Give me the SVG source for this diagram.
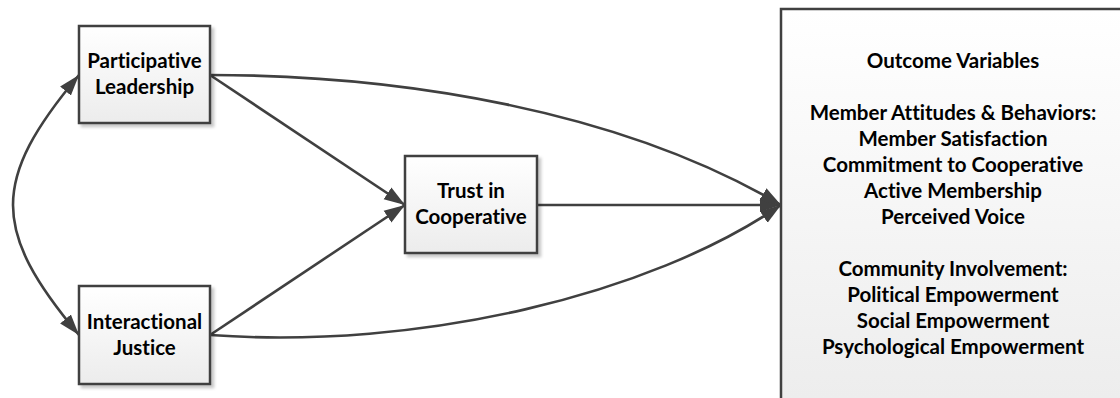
<svg xmlns="http://www.w3.org/2000/svg" width="1120" height="398" viewBox="0 0 1120 398">
  <defs>
    <linearGradient id="boxFill" x1="0" y1="0" x2="0" y2="1">
      <stop offset="0" stop-color="#ffffff"/>
      <stop offset="1" stop-color="#ececec"/>
    </linearGradient>
    <filter id="shadow" x="-10%" y="-10%" width="130%" height="130%">
      <feDropShadow dx="3" dy="3" stdDeviation="1.5" flood-color="#000000" flood-opacity="0.22"/>
    </filter>
    <marker id="arrow" markerUnits="userSpaceOnUse" markerWidth="22" markerHeight="16" refX="21" refY="8" orient="auto-start-reverse" viewBox="0 0 22 16">
      <path d="M0,1 L21,8 L0,15 Z" fill="#404040"/>
    </marker>
  </defs>
  <style>
    .box { fill: url(#boxFill); stroke: #404040; stroke-width: 2.5; filter: url(#shadow); }
    .label { font-family: Lato, "Liberation Sans", sans-serif; font-weight: bold; font-size: 20.5px; font-variant-ligatures: none; fill: #000000; text-anchor: middle; }
    .link { fill: none; stroke: #404040; stroke-width: 2.6; marker-end: url(#arrow); }
    .both { marker-start: url(#arrow); }
  </style>

  <rect width="1120" height="398" fill="#ffffff"/>

  <g id="connectors">
    <!-- correlation between the two predictors -->
    <path class="link both" d="M79,75 C -9,180 -9,230 79,335"/>
    <!-- predictors to trust -->
    <path class="link" d="M210,75 L405,205"/>
    <path class="link" d="M210,335 L405,205"/>
    <!-- trust to outcomes -->
    <path class="link" d="M537,205 L781,205"/>
    <!-- direct paths to outcomes -->
    <path class="link" d="M210,75 C 400,75 620,110 781,205"/>
    <path class="link" d="M210,335 C 420,350 650,295 781,205"/>
  </g>

  <g id="participative-leadership">
    <rect class="box" x="79" y="26" width="131" height="97"/>
    <text class="label" x="144.5" y="68">Participative</text>
    <text class="label" x="144.5" y="94">Leadership</text>
  </g>

  <g id="interactional-justice">
    <rect class="box" x="79" y="286" width="131" height="98"/>
    <text class="label" x="144.5" y="329">Interactional</text>
    <text class="label" x="144.5" y="355">Justice</text>
  </g>

  <g id="trust-in-cooperative">
    <rect class="box" x="405" y="156" width="132" height="97"/>
    <text class="label" x="471" y="198">Trust in</text>
    <text class="label" x="471" y="224">Cooperative</text>
  </g>

  <g id="outcome-variables">
    <rect class="box" x="781" y="9" width="360" height="410"/>
    <text class="label" x="953" y="68">Outcome Variables</text>
    <text class="label" x="953" y="120">Member Attitudes &amp; Behaviors:</text>
    <text class="label" x="953" y="146">Member Satisfaction</text>
    <text class="label" x="953" y="172">Commitment to Cooperative</text>
    <text class="label" x="953" y="198">Active Membership</text>
    <text class="label" x="953" y="224">Perceived Voice</text>
    <text class="label" x="953" y="276">Community Involvement:</text>
    <text class="label" x="953" y="302">Political Empowerment</text>
    <text class="label" x="953" y="328">Social Empowerment</text>
    <text class="label" x="953" y="354">Psychological Empowerment</text>
  </g>
</svg>
